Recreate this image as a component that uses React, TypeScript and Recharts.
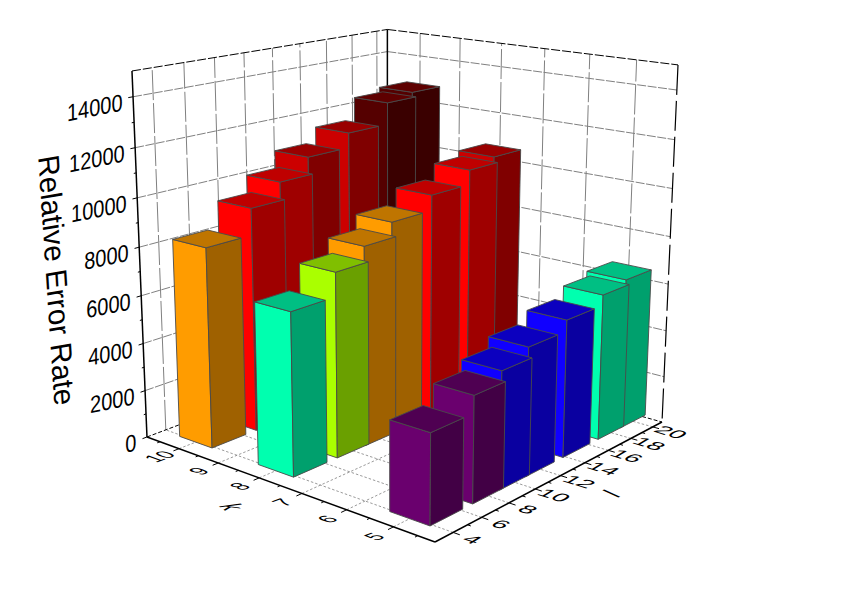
import { ReferenceLine, Scatter, ScatterChart, XAxis, YAxis } from "recharts";

const kRows = [10, 8, 5];
const lValues = [5, 8, 10, 12, 15, 18, 20];

const rateK10 = [8300, 9400, 10170, 10920, 11540, 12470, 12700];
const rateK8 = [6640, 7620, 8300, 8940, 9580, 10190, 10470];
const rateK5 = [3570, 4260, 4750, 5240, 5690, 6120, 6370];
const ratesByRow = [rateK10, rateK8, rateK5];

const kTicks = [5, 6, 7, 8, 9, 10];
const lTicks = [4, 6, 8, 10, 12, 14, 16, 18, 20];
const rateTicks = [0, 2000, 4000, 6000, 8000, 10000, 12000, 14000];
const rateMax = 15000;

// [upper limit of the band, front, top, side]
const colourBands: [number, string, string, string][] = [
  [4500, "#6a006e", "#4f0052", "#420045"],
  [6000, "#1000ff", "#0c00bf", "#0a00a0"],
  [7000, "#00ffaf", "#00bf83", "#00a06d"],
  [8000, "#aaff00", "#80bf00", "#6aa000"],
  [9000, "#ff9c00", "#bf7500", "#9f6100"],
  [10300, "#ff0000", "#bf0000", "#9f0000"],
  [12000, "#cc0000", "#990000", "#800000"],
  [99999, "#550000", "#5e0000", "#3a0000"],
];

//
// 3d box -> page pixels
//
const project = (u: number, v: number, w: number) => {
  const h = 1 + 0.16 * u + 0.19 * v - 0.0667 * w;
  return {
    x: (435 - 264.5 * u + 352.8 * v - 26.2 * w) / h,
    y: (542 - 35.1 * u - 39.8 * v - 429.3 * w) / h,
  };
};

const toU = (k: number) => (k - 4.15) / 6.7;
const toV = (l: number) => (l - 2.77) / 18.1;
const toW = (rate: number) => rate / rateMax;

const halfU = 0.063;
const halfV = 0.063;

const bars = kRows.flatMap((k, row) =>
  lValues
    .map((l, i) => {
      const u = toU(k);
      const v = toV(l);
      return { ...project(u, v, 0), u, v, rate: ratesByRow[row][i] };
    })
    .reverse(),
);

function BarBox({ cx, cy, payload }: any) {
  const { u, v, rate } = payload;
  const w = toW(rate);
  const base = project(u, v, 0);
  const pts = (corners: number[][]) =>
    corners
      .map(([a, b, c]) => {
        const p = project(a, b, c);
        return `${p.x - base.x + cx},${p.y - base.y + cy}`;
      })
      .join(" ");

  const [, front, top, side] = colourBands.find((b) => rate < b[0])!;
  const u0 = u - halfU;
  const u1 = u + halfU;
  const v0 = v - halfV;
  const v1 = v + halfV;
  const edge = { stroke: "#4a4a4a", strokeWidth: 0.9 };

  return (
    <g>
      <polygon
        points={pts([[u1, v0, 0], [u0, v0, 0], [u0, v0, w], [u1, v0, w]])}
        fill={front}
        {...edge}
      />
      <polygon
        points={pts([[u0, v0, 0], [u0, v1, 0], [u0, v1, w], [u0, v0, w]])}
        fill={side}
        {...edge}
      />
      <polygon
        points={pts([[u1, v0, w], [u0, v0, w], [u0, v1, w], [u1, v1, w]])}
        fill={top}
        {...edge}
      />
    </g>
  );
}

function SkewLabel({ cx, cy, payload }: any) {
  const [a, b, c, d] = payload.matrix;
  return (
    <text
      transform={`matrix(${a} ${b} ${c} ${d} ${cx} ${cy})`}
      fontFamily="'Liberation Sans', Arial, sans-serif"
      fontSize={payload.size}
      textAnchor={payload.anchor}
      dy="0.36em"
      fill="#000"
    >
      {payload.text}
    </text>
  );
}

const kMatrix = [0.95, -0.34, 1.0, 0.36];
const lMatrix = [1.2, 0.37, -0.75, 0.45];
const rateMatrix = [1, -0.2, 0, 1.2];

const labels = [
  ...kTicks.map((k) => ({
    ...project(toU(k), -0.07, 0),
    text: String(k),
    matrix: kMatrix,
    size: 20,
    anchor: "middle",
  })),
  ...lTicks.map((l) => ({
    ...project(-0.058, toV(l), 0),
    text: String(l),
    matrix: lMatrix,
    size: 20,
    anchor: "middle",
  })),
  ...rateTicks.map((rate) => {
    const p = project(1, 0, toW(rate));
    return {
      x: p.x - 10.5,
      y: p.y + 5,
      text: String(rate),
      matrix: rateMatrix,
      size: 20,
      anchor: "end",
    };
  }),
  {
    ...project(0.5, -0.168, 0),
    text: "k",
    matrix: [0.7, 0.5, -1.5, 0.2],
    size: 20,
    anchor: "middle",
  },
  {
    ...project(-0.16, 0.5, 0),
    text: "l",
    matrix: [1, -0.5, 1.1, 0.5],
    size: 20,
    anchor: "middle",
  },
  {
    x: 57,
    y: 280,
    text: "Relative Error Rate",
    matrix: [0.065, 0.996, -1.0, 0.17],
    size: 29.5,
    anchor: "middle",
  },
];

type Seg = { from: number[]; to: number[]; stroke: string; dash?: string; width?: number };

const gray = "#808080";
const floorDots = { stroke: gray, dash: "2.5 2", width: 0.8 };
const wallDash = { stroke: gray, dash: "30 3", width: 1 };
const levelDash = { stroke: gray, dash: "9 1.5", width: 1 };
const frameDash = { stroke: "#000", dash: "9 2", width: 1 };
const solid = { stroke: "#000", width: 1.5 };
const thin = { stroke: "#000", width: 1 };

const minorK = [4.5, 5.5, 6.5, 7.5, 8.5, 9.5, 10.5];
const minorL = [5, 7, 9, 11, 13, 15, 17, 19];
const minorRate = [1000, 3000, 5000, 7000, 9000, 11000, 13000];

const segments: Seg[] = [
  ...kTicks.map((k) => ({ from: [toU(k), 0, 0], to: [toU(k), 1, 0], ...floorDots })),
  ...lTicks.map((l) => ({ from: [0, toV(l), 0], to: [1, toV(l), 0], ...floorDots })),
  ...lTicks.map((l) => ({ from: [1, toV(l), 0], to: [1, toV(l), 1], ...wallDash })),
  ...kTicks.map((k) => ({ from: [toU(k), 1, 0], to: [toU(k), 1, 1], ...wallDash })),
  ...rateTicks.slice(1).flatMap((r) => [
    { from: [1, 0, toW(r)], to: [1, 1, toW(r)], ...levelDash },
    { from: [1, 1, toW(r)], to: [0, 1, toW(r)], ...levelDash },
  ]),
  { from: [1, 0, 1], to: [1, 1, 1], ...frameDash },
  { from: [1, 1, 1], to: [0, 1, 1], ...frameDash },
  { from: [0, 1, 1], to: [0, 1, 0], stroke: "#000", dash: "30 6", width: 1.2 },
  { from: [1, 0, 0], to: [1, 1, 0], stroke: "#000", dash: "4 2", width: 1 },
  { from: [1, 1, 0], to: [0, 1, 0], stroke: "#000", dash: "4 2", width: 1 },
  { from: [1, 1, 0], to: [1, 1, 1], ...solid },
  { from: [1, 0, 0], to: [1, 0, 1], ...solid },
  { from: [1, 0, 0], to: [0, 0, 0], ...solid },
  { from: [0, 0, 0], to: [0, 1, 0], ...solid },
  ...kTicks.map((k) => ({ from: [toU(k), -0.02, 0], to: [toU(k), 0, 0], ...thin })),
  ...minorK.map((k) => ({ from: [toU(k), -0.01, 0], to: [toU(k), 0, 0], ...thin })),
  ...lTicks.map((l) => ({ from: [-0.02, toV(l), 0], to: [0, toV(l), 0], ...thin })),
  ...minorL.map((l) => ({ from: [-0.01, toV(l), 0], to: [0, toV(l), 0], ...thin })),
  ...rateTicks.map((r) => ({ from: [1, -0.016, toW(r)], to: [1, 0, toW(r)], ...thin })),
  ...minorRate.map((r) => ({ from: [1, -0.008, toW(r)], to: [1, 0, toW(r)], ...thin })),
];

export default function App() {
  return (
    <div style={{ position: "absolute", left: 0, top: 0 }}>
      <ScatterChart
        width={842}
        height={596}
        margin={{ top: 0, right: 0, bottom: 0, left: 0 }}
      >
        <XAxis type="number" dataKey="x" domain={[0, 842]} hide />
        <YAxis type="number" dataKey="y" domain={[0, 596]} reversed hide />

        {segments.map((s, i) => (
          <ReferenceLine
            key={i}
            segment={[
              project(s.from[0], s.from[1], s.from[2]),
              project(s.to[0], s.to[1], s.to[2]),
            ]}
            stroke={s.stroke}
            strokeDasharray={s.dash}
            strokeWidth={s.width}
          />
        ))}

        <Scatter data={bars} shape={BarBox} isAnimationActive={false} />
        <Scatter data={labels} shape={SkewLabel} isAnimationActive={false} />
      </ScatterChart>
    </div>
  );
}
